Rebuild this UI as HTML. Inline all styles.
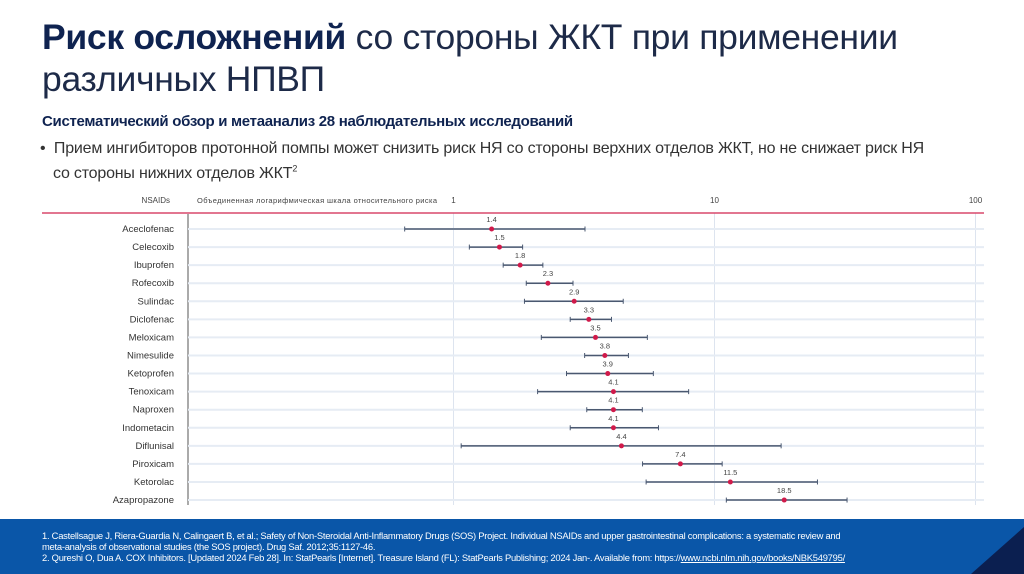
<!DOCTYPE html>
<html><head><meta charset="utf-8">
<style>
html,body{margin:0;padding:0;}
body{width:1024px;height:574px;position:relative;overflow:hidden;background:#fff;font-family:"Liberation Sans","Noto Sans CJK SC",sans-serif;color:#222;}
.t{position:absolute;white-space:nowrap;}
</style></head><body>
<div class="t" style="left:42px;top:16px;font-size:35.5px;line-height:42px;color:#0f2350;letter-spacing:-0.3px;"><b>Риск осложнений</b> <span style="color:#1d2a48">со стороны ЖКТ при применении<br>различных НПВП</span></div>
<div class="t" style="left:42px;top:113px;font-size:15px;font-weight:bold;color:#0f2350;letter-spacing:-0.3px;">Систематический обзор и метаанализ 28 наблюдательных исследований</div>
<div class="t" style="left:40px;top:138px;font-size:16px;line-height:21px;color:#333;letter-spacing:-0.2px;">•&nbsp;&nbsp;Прием ингибиторов протонной помпы может снизить риск НЯ со стороны верхних отделов ЖКТ, но не снижает риск НЯ<br><span style="padding-left:13px">со стороны нижних отделов ЖКТ<sup style="font-size:9px">2</sup></span></div>

<svg id="chart" width="1024" height="574" style="position:absolute;left:0;top:0" xmlns="http://www.w3.org/2000/svg"></svg>

<div style="position:absolute;left:0;top:519px;width:1024px;height:55px;background:#0a56a8;"></div>
<svg width="1024" height="574" style="position:absolute;left:0;top:0"><polygon points="971,574 1024,527 1024,574" fill="#0b1f50"/></svg>
<div class="t" style="left:42px;top:530px;font-size:9.4px;line-height:11px;color:#fff;letter-spacing:-0.25px;">1. Castellsague J, Riera-Guardia N, Calingaert B, et al.; Safety of Non-Steroidal Anti-Inflammatory Drugs (SOS) Project. Individual NSAIDs and upper gastrointestinal complications: a systematic review and<br>meta-analysis of observational studies (the SOS project). Drug Saf. 2012;35:1127-46.<br>2. Qureshi O, Dua A. COX Inhibitors. [Updated 2024 Feb 28]. In: StatPearls [Internet]. Treasure Island (FL): StatPearls Publishing; 2024 Jan-. Available from: https://<u>www.ncbi.nlm.nih.gov/books/NBK549795/</u></div>

<script>
const drugs=["Aceclofenac","Celecoxib","Ibuprofen","Rofecoxib","Sulindac","Diclofenac","Meloxicam","Nimesulide","Ketoprofen","Tenoxicam","Naproxen","Indometacin","Diflunisal","Piroxicam","Ketorolac","Azapropazone"];
const rr=[1.4,1.5,1.8,2.3,2.9,3.3,3.5,3.8,3.9,4.1,4.1,4.1,4.4,7.4,11.5,18.5];
const ciLow=[0.65,1.15,1.55,1.9,1.87,2.8,2.17,3.18,2.71,2.1,3.24,2.8,1.07,5.3,5.47,11.1];
const ciHigh=[3.19,1.84,2.2,2.87,4.47,4.03,5.53,4.68,5.83,7.96,5.29,6.1,18,10.7,24.8,32.2];
const ticks=[1,10,100];
const ns="http://www.w3.org/2000/svg";
const svg=document.getElementById('chart');
const x=v=>453.5+261*Math.log10(v);
const y=i=>229+i*18.07;
function mk(tag,a,txt){const e=document.createElementNS(ns,tag);for(const k in a)e.setAttribute(k,a[k]);if(txt!==undefined)e.textContent=txt;svg.appendChild(e);return e;}
let e;
e=mk('text',{x:170,y:203,'font-size':8,'text-anchor':'end',fill:'#444'},'NSAIDs');

e=mk('text',{x:197,y:203,'font-size':7.5,fill:'#444',textLength:240},'Объединенная логарифмическая шкала относительного риска');

ticks.forEach((t,k)=>{
  e=mk('line',{x1:x(t),x2:x(t),y1:213,y2:505,stroke:'#dde4ef','stroke-width':1});
  
  e=mk('text',{x:x(t),y:203,'font-size':8,'text-anchor':'middle',fill:'#444'},String(t));
  
});
e=mk('line',{x1:42,x2:984,y1:213,y2:213,stroke:'#d8486c','stroke-width':1.5});

e=mk('line',{x1:188,x2:188,y1:214,y2:505,stroke:'#555','stroke-width':1});

drugs.forEach((d,i)=>{
  const yy=y(i);
  e=mk('line',{x1:188,x2:984,y1:yy,y2:yy,stroke:'#e6ecf4','stroke-width':2});
  
  e=mk('text',{x:174,y:yy+3,'font-size':9.5,'text-anchor':'end',fill:'#333'},d);
  
  e=mk('line',{x1:x(ciLow[i]),x2:x(ciHigh[i]),y1:yy,y2:yy,stroke:'#4a5870','stroke-width':1.5});
  
  [ciLow[i],ciHigh[i]].forEach(v=>{
    e=mk('line',{x1:x(v),x2:x(v),y1:yy-2.5,y2:yy+2.5,stroke:'#4a5870','stroke-width':1});
    
  });
  e=mk('circle',{cx:x(rr[i]),cy:yy,r:2.5,fill:'#d01a4a'});
  
  e=mk('text',{x:x(rr[i]),y:yy-7,'font-size':7.5,'text-anchor':'middle',fill:'#444'},String(rr[i]));
  
});
</script>
</body></html>
